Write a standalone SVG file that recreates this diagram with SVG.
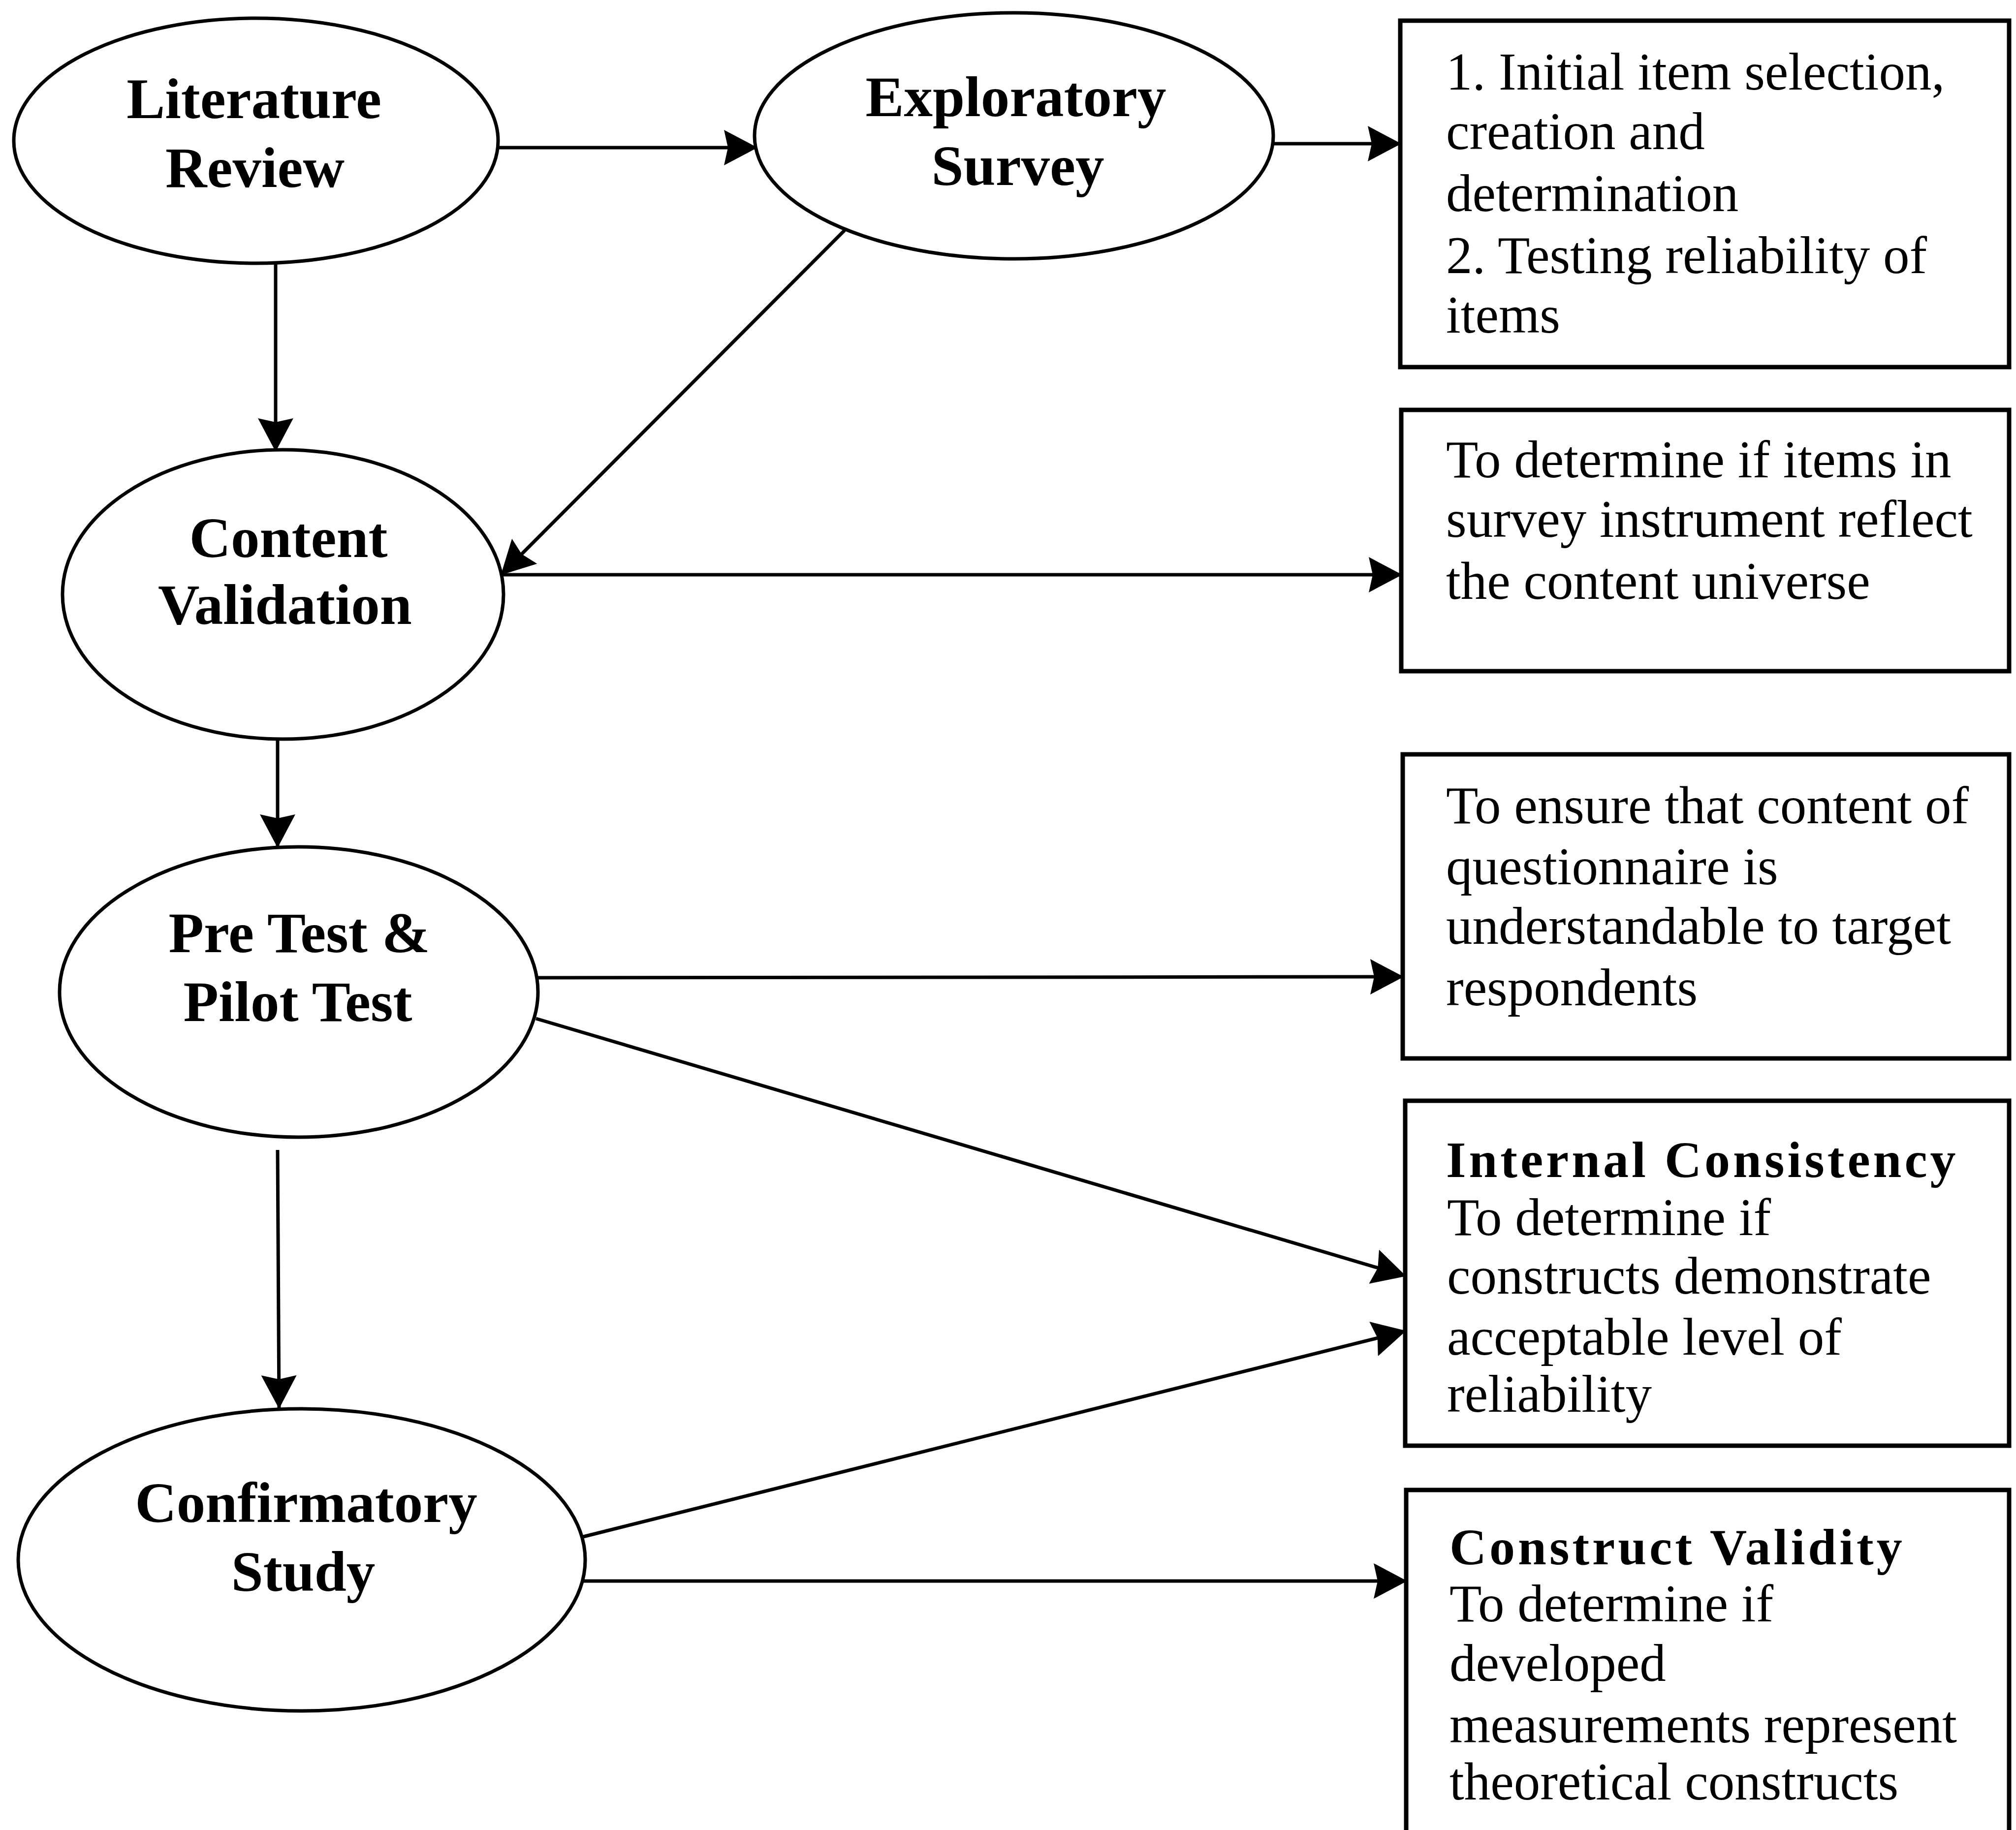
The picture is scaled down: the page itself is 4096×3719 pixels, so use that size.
<svg xmlns="http://www.w3.org/2000/svg" width="4096" height="3719" viewBox="0 0 4096 3719">
  <style>
    .node { fill: #ffffff; stroke: #000000; stroke-width: 7; }
    .box { fill: #ffffff; stroke: #000000; stroke-width: 9; }
    .edge { fill: none; stroke: #000000; stroke-width: 7; marker-end: url(#head); }
    .plain { fill: none; stroke: #000000; stroke-width: 7; }
    .title { font-family: "Liberation Serif", "Times New Roman", serif; font-weight: bold; font-size: 117px; fill: #000000; text-anchor: middle; }
    .body { font-family: "Liberation Serif", "Times New Roman", serif; font-size: 107px; fill: #000000; }
    .head { font-family: "Liberation Serif", "Times New Roman", serif; font-weight: bold; font-size: 104px; letter-spacing: 6px; fill: #000000; }
  </style>
  <defs>
    <marker id="head" markerUnits="userSpaceOnUse" viewBox="0 0 68 72" refX="66" refY="36" markerWidth="68" markerHeight="72" orient="auto">
      <path d="M0,0 L68,36 L0,72 L8,36 Z" fill="#000000"/>
    </marker>
  </defs>

  <rect x="0" y="0" width="4096" height="3719" fill="#ffffff"/>

  <!-- connectors -->
  <g id="connectors">
    <line class="edge" x1="1013" y1="300" x2="1537" y2="300"/>
    <line class="edge" x1="2588" y1="292" x2="2845" y2="292"/>
    <line class="edge" x1="560" y1="535" x2="560" y2="916"/>
    <line class="edge" x1="1716" y1="468" x2="1019" y2="1167"/>
    <line class="edge" x1="1006" y1="1168" x2="2847" y2="1168"/>
    <line class="edge" x1="564" y1="1502" x2="564" y2="1721"/>
    <line class="edge" x1="1093" y1="1987" x2="2850" y2="1985"/>
    <line class="edge" x1="1089" y1="2070" x2="2855" y2="2593"/>
    <line class="edge" x1="564" y1="2337" x2="567" y2="2861"/>
    <line class="edge" x1="1185" y1="3123" x2="2855" y2="2705"/>
    <line class="edge" x1="1180" y1="3213" x2="2857" y2="3213"/>
  </g>

  <!-- process stages -->
  <g id="literature-review">
    <ellipse class="node" cx="520" cy="286" rx="492" ry="249"/>
    <text class="title" x="516" y="240">Literature</text>
    <text class="title" x="518" y="380">Review</text>
  </g>
  <g id="exploratory-survey">
    <ellipse class="node" cx="2060" cy="276" rx="527" ry="250"/>
    <text class="title" x="2064" y="236">Exploratory</text>
    <text class="title" x="2068" y="376">Survey</text>
  </g>
  <g id="content-validation">
    <ellipse class="node" cx="575" cy="1208" rx="448" ry="294"/>
    <text class="title" x="586" y="1132">Content</text>
    <text class="title" x="579" y="1268">Validation</text>
  </g>
  <g id="pre-pilot-test">
    <ellipse class="node" cx="607" cy="2016" rx="486" ry="295"/>
    <text class="title" x="608" y="1935">Pre Test &amp;</text>
    <text class="title" x="605" y="2075">Pilot Test</text>
  </g>
  <g id="confirmatory-study">
    <ellipse class="node" cx="613" cy="3170" rx="576" ry="307"/>
    <text class="title" x="622" y="3093">Confirmatory</text>
    <text class="title" x="616" y="3233">Study</text>
  </g>

  <!-- outcome descriptions -->
  <g id="item-selection">
    <rect class="box" x="2845" y="42" width="1237" height="704"/>
    <text class="body" x="2938" y="182">1. Initial item selection,</text>
    <text class="body" x="2938" y="303">creation and</text>
    <text class="body" x="2938" y="429">determination</text>
    <text class="body" x="2938" y="555">2. Testing reliability of</text>
    <text class="body" x="2938" y="676">items</text>
  </g>
  <g id="content-universe">
    <rect class="box" x="2847" y="833" width="1235" height="531"/>
    <text class="body" x="2938" y="970">To determine if items in</text>
    <text class="body" x="2938" y="1091">survey instrument reflect</text>
    <text class="body" x="2938" y="1217">the content universe</text>
  </g>
  <g id="understandable">
    <rect class="box" x="2850" y="1533" width="1232" height="618"/>
    <text class="body" x="2938" y="1673">To ensure that content of</text>
    <text class="body" x="2938" y="1797">questionnaire is</text>
    <text class="body" x="2938" y="1918">understandable to target</text>
    <text class="body" x="2938" y="2043">respondents</text>
  </g>
  <g id="internal-consistency">
    <rect class="box" x="2855" y="2237" width="1227" height="701"/>
    <text class="head" x="2938" y="2392">Internal Consistency</text>
    <text class="body" x="2940" y="2510">To determine if</text>
    <text class="body" x="2940" y="2629">constructs demonstrate</text>
    <text class="body" x="2940" y="2753">acceptable level of</text>
    <text class="body" x="2940" y="2869">reliability</text>
  </g>
  <g id="construct-validity">
    <rect class="box" x="2857" y="3028" width="1225" height="740"/>
    <text class="head" x="2945" y="3179">Construct Validity</text>
    <text class="body" x="2945" y="3295">To determine if</text>
    <text class="body" x="2945" y="3416">developed</text>
    <text class="body" x="2945" y="3541">measurements represent</text>
    <text class="body" x="2945" y="3657">theoretical constructs</text>
  </g>
</svg>
